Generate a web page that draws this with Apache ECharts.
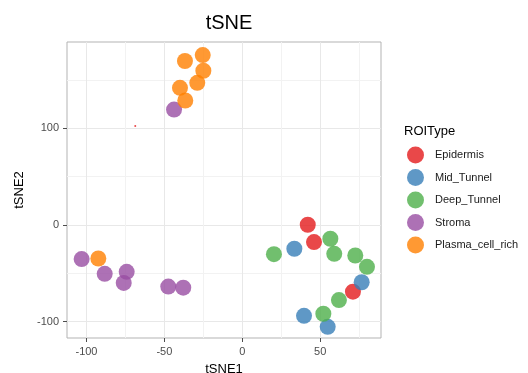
<!DOCTYPE html>
<html>
<head>
<meta charset="utf-8">
<script src="https://cdn.jsdelivr.net/npm/echarts@6/dist/echarts.min.js"></script>
<style>
  html, body { margin: 0; padding: 0; background: #fff; }
  #chart { width: 528px; height: 373px; }
</style>
</head>
<body>
<div id="chart"></div>
<script>
// groups, in legend order
var groupNames = ["Epidermis", "Mid_Tunnel", "Deep_Tunnel", "Stroma", "Plasma_cell_rich"];
var groupColors = ["#E41A1C", "#377EB8", "#4DAF4A", "#984EA3", "#FF7F00"];

// points [tSNE1, tSNE2]
var epidermis = [[42, 0.3], [46, -17.7], [71, -69]];
var midTunnel = [[33.4, -24.6], [76.6, -59.3], [39.6, -94], [54.8, -105.4]];
var deepTunnel = [[20.3, -30.2], [56.5, -14.2], [59, -29.8], [72.5, -31.6], [80, -43.3], [62, -77.7], [52, -91.9]];
var stroma = [[-43.8, 119.5], [-103.1, -35.3], [-88.3, -50.6], [-74.2, -48.5], [-76.1, -60], [-47.5, -63.8], [-37.9, -64.9]];
var plasmaCellRich = [[-36.8, 169.8], [-25.4, 176], [-25, 159.7], [-28.9, 147.2], [-40, 142], [-36.6, 128.9], [-92.4, -34.7]];
var speck = [[-68.7, 102.5]];

// axis ranges and ticks
var xRange = [-112.5, 89];
var yRange = [-117, 189.5];
var xMajor = [-100, -50, 0, 50];
var xMinor = [-75, -25, 25, 75];
var yMajor = [-100, 0, 100];
var yMinor = [-50, 50, 150];

var groupData = [epidermis, midTunnel, deepTunnel, stroma, plasmaCellRich];

function init(){
    var myChart = echarts.init(document.getElementById('chart'));
    var font = "Liberation Sans, Arial, Helvetica, sans-serif";
    var series = [];
    for (var i = 0; i < groupNames.length; i++) {
        series.push({
            name: groupNames[i],
            type: 'scatter',
            xAxisIndex: 0,
            yAxisIndex: 0,
            symbolSize: 16,
            itemStyle: { color: groupColors[i], opacity: 0.8 },
            emphasis: { disabled: true },
            data: groupData[i]
        });
    }
    // the tiny red dot near (-69, 103)
    series.push({
        name: 'speck',
        type: 'scatter',
        symbolSize: 2,
        itemStyle: { color: '#E41A1C', opacity: 0.8 },
        data: speck
    });

    var option = {
        animation: false,
        backgroundColor: '#ffffff',
        title: [{
            text: 'tSNE',
            left: 224,
            top: 8,
            textAlign: 'center',
            textStyle: { fontSize: 20, fontWeight: 'normal', color: '#000', fontFamily: font }
        }, {
            text: 'ROIType',
            left: 399,
            top: 120,
            textStyle: { fontSize: 13, fontWeight: 'normal', color: '#000', fontFamily: font }
        }],
        legend: {
            data: groupNames,
            orient: 'vertical',
            left: 407,
            top: 146.5,
            padding: 0,
            itemWidth: 17,
            itemHeight: 17,
            itemGap: 5.5,
            icon: 'circle',
            selectedMode: false,
            textStyle: { fontSize: 11, color: '#1a1a1a', fontFamily: font, padding: [0, 0, 0, 6] }
        },
        grid: {
            left: 67,
            right: 147,
            top: 42,
            bottom: 35,
            outerBoundsMode: 'none',
            containLabel: false,
            show: true,
            borderColor: '#b3b3b3',
            borderWidth: 1
        },
        xAxis: [{
            type: 'value',
            min: xRange[0],
            max: xRange[1],
            name: 'tSNE1',
            nameLocation: 'middle',
            nameGap: 25,
            nameTextStyle: { fontSize: 13, color: '#000', fontFamily: font },
            axisLine: { show: false, onZero: false },
            axisTick: { show: true, length: 4, customValues: xMajor, lineStyle: { color: '#4d4d4d' } },
            axisLabel: { show: true, customValues: xMajor, fontSize: 11, color: '#4d4d4d', margin: 8, fontFamily: font },
            splitLine: { show: true, lineStyle: { color: '#e8e8e8', width: 1 } }
        }, {
            type: 'value',
            min: xRange[0],
            max: xRange[1],
            position: 'bottom',
            axisLine: { show: false, onZero: false },
            axisTick: { show: false, customValues: xMinor },
            axisLabel: { show: false, customValues: xMinor },
            splitLine: { show: true, lineStyle: { color: '#f2f2f2', width: 1 } }
        }],
        yAxis: [{
            type: 'value',
            min: yRange[0],
            max: yRange[1],
            name: 'tSNE2',
            nameLocation: 'middle',
            nameGap: 28,
            nameRotate: 90,
            nameTextStyle: { fontSize: 13, color: '#000', fontFamily: font },
            axisLine: { show: false, onZero: false },
            axisTick: { show: true, length: 4, customValues: yMajor, lineStyle: { color: '#4d4d4d' } },
            axisLabel: { show: true, customValues: yMajor, fontSize: 11, color: '#4d4d4d', margin: 8, fontFamily: font },
            splitLine: { show: true, lineStyle: { color: '#e8e8e8', width: 1 } }
        }, {
            type: 'value',
            min: yRange[0],
            max: yRange[1],
            position: 'left',
            axisLine: { show: false, onZero: false },
            axisTick: { show: false, customValues: yMinor },
            axisLabel: { show: false, customValues: yMinor },
            splitLine: { show: true, lineStyle: { color: '#f2f2f2', width: 1 } }
        }],
        series: series
    };
    myChart.setOption(option);
}
init();
</script>
</body>
</html>
